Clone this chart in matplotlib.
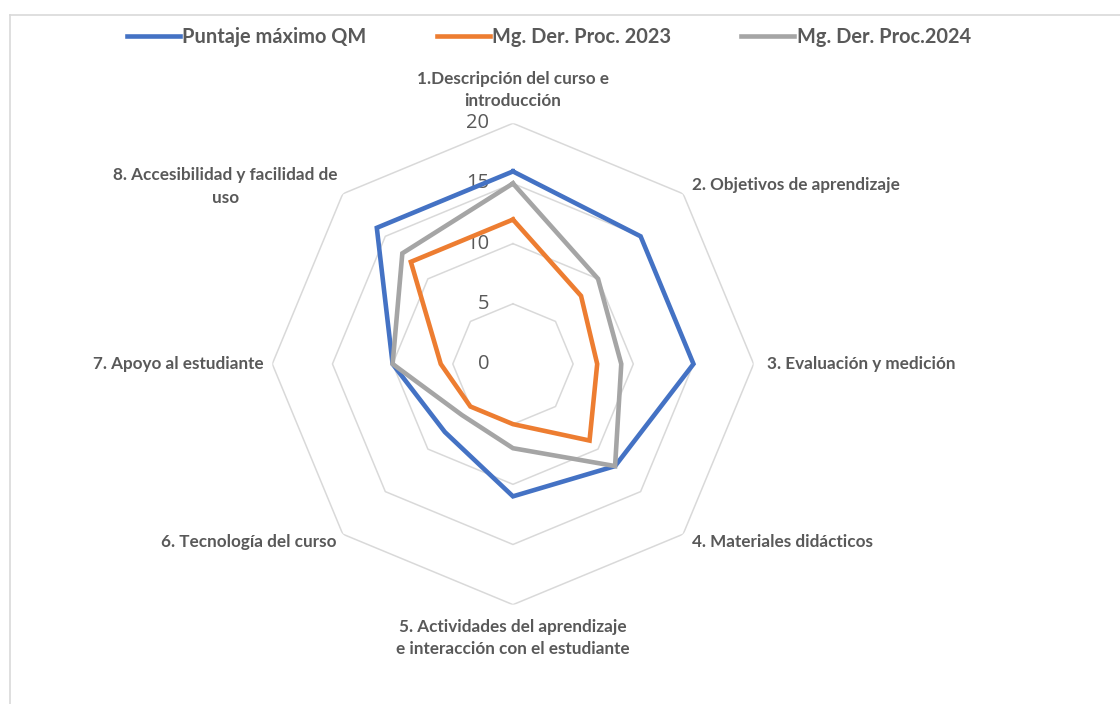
#!/usr/bin/env python3
"""Radar chart: QM scores, Mg. Der. Proc. 2023 vs 2024"""

import numpy as np
import matplotlib
matplotlib.use('Agg')
import matplotlib.pyplot as plt
from matplotlib.lines import Line2D

plt.rcParams['font.family'] = ['Lato', 'DejaVu Sans']

# data
categories = [
    '1.Descripción del curso e\nintroducción',
    '2. Objetivos de aprendizaje',
    '3. Evaluación y medición',
    '4. Materiales didácticos',
    '5. Actividades del aprendizaje\ne interacción con el estudiante',
    '6. Tecnología del curso',
    '7. Apoyo al estudiante',
    '8. Accesibilidad y facilidad de\nuso',
]
series_names = ['Puntaje máximo QM', 'Mg. Der. Proc. 2023', 'Mg. Der. Proc.2024']
puntaje_qm = [16, 15, 15, 12, 11, 8, 10, 16]
proc_2023 = [12, 8, 7, 9, 5, 5, 6, 12]
proc_2024 = [15, 10, 9, 12, 7, 6, 10, 13]
r_ticks = [0, 5, 10, 15, 20]

colors = ['#4472C4', '#ED7D31', '#A5A5A5']
grid_color = '#D9D9D9'
text_color = '#595959'

n = len(categories)
angles = np.linspace(0, 2 * np.pi, n, endpoint=False)
closed = np.append(angles, angles[0])

fig = plt.figure(figsize=(11.2, 7.04), dpi=100)
ax = fig.add_axes([0.2431, 0.1411, 0.4298, 0.6838], projection='polar')
ax.set_theta_offset(np.pi / 2)
ax.set_theta_direction(-1)
ax.set_ylim(0, r_ticks[-1])
ax.grid(False)
ax.spines['polar'].set_visible(False)
ax.set_xticks([])
ax.set_yticks([])
ax.patch.set_alpha(0)

# octagon gridlines
for lvl in r_ticks[1:]:
    ax.plot(closed, [lvl] * (n + 1), color=grid_color, lw=1.1, zorder=1)

# radial tick labels
for lvl in r_ticks:
    ax.annotate(str(lvl), xy=(0, lvl), xytext=(-17, 0), textcoords='offset points',
                ha='right', va='center', fontsize=14.5, color=text_color,
                family=['Open Sans', 'DejaVu Sans'], zorder=2)

# series
for vals, c in zip([puntaje_qm, proc_2023, proc_2024], colors):
    ax.plot(closed, vals + vals[:1], color=c, lw=3.3, zorder=3,
            solid_joinstyle='miter')

# category labels
offsets = [(0, 10), (6.5, 6.5), (9.4, 0), (6.5, -6), (0, -10), (-4.3, -6), (-6.5, 0), (-3.6, 5.4)]
has = ['center', 'left', 'left', 'left', 'center', 'right', 'right', 'right']
vas = ['bottom', 'center', 'center', 'center', 'top', 'center', 'center', 'center']
for ang, lab, off, h, v in zip(angles, categories, offsets, has, vas):
    ax.annotate(lab, xy=(ang, r_ticks[-1]), xytext=off, textcoords='offset points',
                ha=h, va=v, multialignment='center', fontsize=12.3, fontweight='bold',
                color=text_color, linespacing=1.5, annotation_clip=False)

# legend
handles = [Line2D([0], [0], color=c, lw=3.3) for c in colors]
fig.legend(handles, series_names, loc='center', bbox_to_anchor=(0.49, 0.947), ncol=3,
           frameon=False, handlelength=2.65, handletextpad=0.12, columnspacing=3.5,
           prop={'weight': 'bold', 'size': 14.4}, labelcolor=text_color)

# chart frame
fig.add_artist(Line2D([10 / 1120, 1], [1 - 15 / 704, 1 - 15 / 704], color=grid_color, lw=1.2))
fig.add_artist(Line2D([10 / 1120, 10 / 1120], [0, 1 - 15 / 704], color=grid_color, lw=1.2))

fig.savefig('out.png', dpi=100)
